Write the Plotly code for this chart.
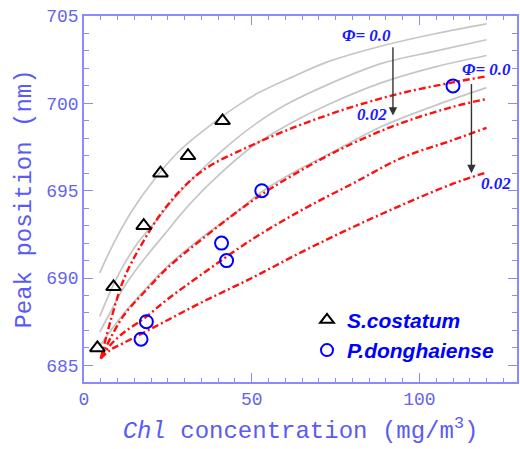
import plotly.graph_objects as go

# Measured peak positions (nm) against chlorophyll concentration (mg/m^3)
sc_chl = [4.0, 8.8, 17.8, 22.8, 31.0, 41.3]
sc_peak = [686.0, 689.5, 693.0, 696.0, 697.0, 699.0]

pd_chl = [17.0, 18.6, 41.0, 42.5, 53.0, 110.0]
pd_peak = [686.5, 687.5, 692.0, 691.0, 695.0, 701.0]

# Model curves, Phi = 0.0 (grey)
gray_a_x = [4.7, 9.4, 14.8, 20.8, 28, 36, 46, 52, 62, 73, 89, 105, 120]
gray_a_y = [690.3, 692.2, 694.0, 695.6, 697.2, 698.5, 699.9, 700.6, 701.5, 702.4, 703.3, 704.0, 704.55]

gray_b_x = [4.7, 8, 12, 16, 21.6, 28, 35, 43, 51, 60, 73, 89, 105, 120]
gray_b_y = [687.8, 689.3, 690.8, 692.0, 693.3, 694.8, 696.2, 697.6, 698.8, 699.9, 701.1, 702.3, 703.0, 703.64]

gray_c_x = [4.7, 8, 12, 18, 24, 30, 38, 50, 62, 73, 89, 105, 120]
gray_c_y = [686.9, 688.1, 689.5, 691.1, 692.5, 693.9, 695.5, 697.5, 698.9, 699.95, 701.2, 702.1, 702.74]

gray_d_x = [5, 8, 12, 18, 25, 35, 45, 52.7, 62, 73, 89, 105, 120]
gray_d_y = [686.2, 687.0, 688.0, 689.3, 690.7, 692.3, 693.7, 694.9, 696.0, 697.1, 698.7, 699.9, 700.9]

# Model curves, Phi = 0.02 (red)
red_x = [5, 8, 12, 18, 25, 35, 50, 65, 80, 95, 110, 120]
red_a_y = [685.4, 687.6, 690.0, 692.2, 694.2, 696.1, 697.6, 698.8, 699.8, 700.6, 701.2, 701.55]
red_b_y = [685.4, 686.6, 687.9, 689.2, 690.6, 692.2, 694.4, 696.2, 697.7, 698.9, 699.8, 700.25]
red_c_y = [685.4, 686.2, 686.9, 687.7, 688.8, 690.2, 692.2, 693.9, 695.4, 696.9, 697.9, 698.6]
red_d_y = [685.4, 685.9, 686.3, 686.9, 687.6, 688.6, 690.0, 691.5, 692.9, 694.2, 695.4, 696.05]

x_ticks = [0, 50, 100]
y_ticks = [685, 690, 695, 700, 705]

AXIS_COLOR = "#8a8aff"
LABEL_COLOR = "#6464ee"
MONO = "Liberation Mono, Courier New, monospace"
SERIF = "Liberation Serif, Times New Roman, serif"

fig = go.Figure()

for gx, gy in [(gray_a_x, gray_a_y), (gray_b_x, gray_b_y),
               (gray_c_x, gray_c_y), (gray_d_x, gray_d_y)]:
    fig.add_trace(go.Scatter(
        x=gx, y=gy, mode="lines", showlegend=False, hoverinfo="skip",
        line=dict(color="#c6c6c6", width=1.7, shape="spline", smoothing=1.0)))

for ry in [red_a_y, red_b_y, red_c_y, red_d_y]:
    fig.add_trace(go.Scatter(
        x=red_x, y=ry, mode="lines", showlegend=False, hoverinfo="skip",
        line=dict(color="#ff1010", width=2.4, shape="spline", smoothing=1.0,
                  dash="7px,3px,2px,3px")))

fig.add_trace(go.Scatter(
    x=sc_chl, y=sc_peak, mode="markers", name="<b><i>S.costatum</i></b>",
    marker=dict(symbol="triangle-up-open", size=13, color="black",
                line=dict(color="black", width=2))))
fig.add_trace(go.Scatter(
    x=pd_chl, y=pd_peak, mode="markers", name="<b><i>P.donghaiense</i></b>",
    marker=dict(symbol="circle-open", size=13, color="#0000ff",
                line=dict(color="#0000ff", width=2))))

# Phi labels and arrows
lab_font = dict(family=SERIF, size=17, color="#1a1aff")
fig.add_annotation(x=84.1, y=703.9, text="<b><i>Φ= 0.0</i></b>",
                   showarrow=False, font=lab_font)
fig.add_annotation(x=85.8, y=699.35, text="<b><i>0.02</i></b>",
                   showarrow=False, font=lab_font)
fig.add_annotation(x=119.9, y=701.95, text="<b><i>Φ= 0.0</i></b>",
                   showarrow=False, font=lab_font)
fig.add_annotation(x=122.8, y=695.4, text="<b><i>0.02</i></b>",
                   showarrow=False, font=lab_font)

for ax_, y0, y1 in [(92.1, 703.3, 699.3), (115.5, 701.2, 696.0)]:
    fig.add_annotation(x=ax_, y=y1, ax=ax_, ay=y0, xref="x", yref="y",
                       axref="x", ayref="y", text="", showarrow=True,
                       arrowhead=2, arrowsize=1.2, arrowwidth=1.4,
                       arrowcolor="#333333")

axis_common = dict(
    showline=True, linecolor=AXIS_COLOR, linewidth=1.5, mirror="allticks",
    ticks="inside", ticklen=9, tickwidth=1.2, tickcolor=AXIS_COLOR,
    showgrid=False, zeroline=False,
    tickfont=dict(family=MONO, size=18, color=LABEL_COLOR),
)

fig.update_xaxes(
    range=[0, 129.08], tickmode="array", tickvals=x_ticks,
    minor=dict(dtick=5, tick0=0, ticks="inside", ticklen=4,
               tickcolor=AXIS_COLOR, tickwidth=1, showgrid=False),
    title=dict(text="<i>Chl</i> concentration (mg/m<sup>3</sup>)",
               font=dict(family=MONO, size=24, color="#5a5af5"), standoff=12),
    **axis_common)
fig.update_yaxes(
    range=[684.05, 705], tickmode="array", tickvals=y_ticks,
    minor=dict(dtick=1, tick0=685, ticks="inside", ticklen=5,
               tickcolor=AXIS_COLOR, tickwidth=1, showgrid=False),
    title=dict(text="Peak position (nm)",
               font=dict(family=MONO, size=24, color="#5a5af5"), standoff=8),
    **axis_common)

fig.update_layout(
    width=520, height=449,
    margin=dict(l=84, r=1, t=16, b=67),
    plot_bgcolor="white", paper_bgcolor="white",
    showlegend=True,
    legend=dict(x=0.515, y=0.225, xanchor="left", yanchor="top",
                bgcolor="rgba(0,0,0,0)", borderwidth=0,
                font=dict(family="Liberation Sans, Arial, sans-serif",
                          size=21, color="#0000ff"),
                itemsizing="constant"),
)

fig.write_html("out.html")
